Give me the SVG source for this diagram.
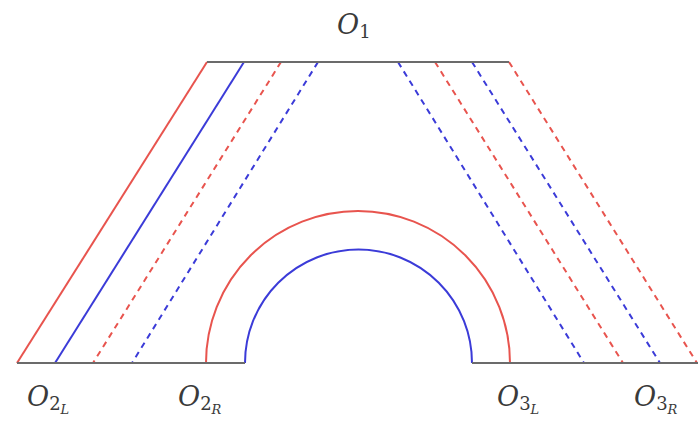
<svg xmlns="http://www.w3.org/2000/svg" width="700" height="421" viewBox="0 0 700 421">
<style>
.base{stroke:#6b6b6b;stroke-width:2.2;fill:none}
.r{stroke:#e8544e;stroke-width:2;fill:none}
.b{stroke:#3b3bd8;stroke-width:2;fill:none}
.d{stroke-dasharray:6 5}
text{fill:#3a3a3a;font-family:"DejaVu Serif","Liberation Serif",serif}
.lbl{font-style:italic;font-size:27px}
.sub{font-style:normal;font-size:18px}
.subi{font-style:italic;font-size:13px}
</style>
<rect width="700" height="421" fill="#fff"/>
<g id="connectors">
<line class="r" x1="207" y1="62" x2="17" y2="363"/>
<line class="b" x1="244" y1="62" x2="55" y2="363"/>
<line class="r d" x1="281" y1="62" x2="93" y2="363"/>
<line class="b d" x1="318" y1="62" x2="132" y2="363"/>
<line class="b d" x1="398" y1="62" x2="584" y2="363"/>
<line class="r d" x1="435" y1="62" x2="623" y2="363"/>
<line class="b d" x1="472" y1="62" x2="660" y2="363"/>
<line class="r d" x1="509" y1="62" x2="697" y2="363"/>
<path class="r" d="M206 363 A152 152 0 0 1 510 363"/>
<path class="b" d="M245 363 A113.5 113.5 0 0 1 472 363"/>
</g>
<g id="O1">
<line class="base" x1="207" y1="62" x2="509" y2="62"/>
<text class="lbl" x="337" y="34">O<tspan class="sub" dy="4">1</tspan></text>
</g>
<g id="O2">
<line class="base" x1="17" y1="363" x2="245" y2="363"/>
<text class="lbl" x="27" y="406">O<tspan class="sub" dy="4">2</tspan><tspan class="subi" dy="4">L</tspan></text>
<text class="lbl" x="178" y="406">O<tspan class="sub" dy="4">2</tspan><tspan class="subi" dy="4">R</tspan></text>
</g>
<g id="O3">
<line class="base" x1="472" y1="363" x2="698" y2="363"/>
<text class="lbl" x="497" y="406">O<tspan class="sub" dy="4">3</tspan><tspan class="subi" dy="4">L</tspan></text>
<text class="lbl" x="634" y="406">O<tspan class="sub" dy="4">3</tspan><tspan class="subi" dy="4">R</tspan></text>
</g>
</svg>
